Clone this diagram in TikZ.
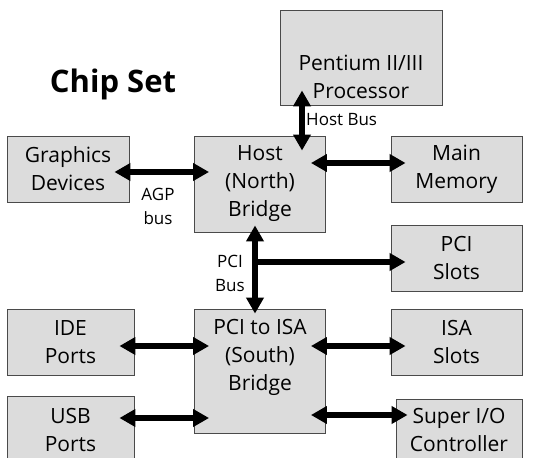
\documentclass[tikz,border=0pt]{standalone}
\usepackage{fontspec}
\setmainfont{Open Sans}
\usetikzlibrary{arrows.meta,positioning}
\definecolor{boxgray}{HTML}{DCDCDC}
\definecolor{edgegray}{HTML}{4A4A4A}

\begin{document}
\begin{tikzpicture}[x=1pt,y=-1pt,
    box/.style={draw=edgegray,fill=boxgray,line width=0.9pt,inner sep=0pt,align=center,font=\fontsize{21}{28}\selectfont},
    txt/.style={inner sep=0pt,align=center,font=\fontsize{21}{28}\selectfont},
    buslabel/.style={inner sep=0pt,align=center,font=\fontsize{17}{24}\selectfont},
    bus/.style={{Triangle[length=16pt,width=17pt]}-{Triangle[length=16pt,width=17pt]},line width=5.5pt,shorten <=-15pt,shorten >=-15pt}]

    \useasboundingbox (0,0) rectangle (545,457);
    \clip (0,0) rectangle (545,457);

    % boxes
    \node[box, minimum width=162pt, minimum height=95pt]  (cpu)      at (361,57.5)  {};
    \node[box, minimum width=122pt, minimum height=66pt]  (graphics) at (68,169)    {Graphics\\Devices};
    \node[box, minimum width=131pt, minimum height=96pt]  (north)    at (260,184)   {Host\\(North)\\Bridge};
    \node[box, minimum width=131pt, minimum height=66pt]  (memory)   at (456.5,169) {Main\\Memory};
    \node[box, minimum width=131pt, minimum height=66pt]  (pcislots) at (456.5,258) {PCI\\Slots};
    \node[box, minimum width=127pt, minimum height=66pt]  (ide)      at (70.5,342)  {IDE\\Ports};
    \node[box, minimum width=131pt, minimum height=124pt] (south)    at (260,371)   {};
    \node[box, minimum width=131pt, minimum height=66pt]  (isa)      at (456.5,342) {ISA\\Slots};
    \node[box, minimum width=127pt, minimum height=80pt]  (usb)      at (70.5,436)  {};
    \node[box, minimum width=126pt, minimum height=80pt]  (superio)  at (459,439)   {};

    % box texts that sit off centre
    \node[txt] (cputxt)   at ([yshift=-19.5pt]cpu.center) {Pentium II/III\\Processor};
    \node[txt] (southtxt) at ([yshift=14pt]south.center)  {PCI to ISA\\(South)\\Bridge};
    \node[txt] (usbtxt)   at (70.5,430)                   {USB\\Ports};
    \node[txt] (siotxt)   at (459,430)                    {Super I/O\\Controller};

    \node[font=\fontsize{31}{34}\selectfont\bfseries] (title) at (113,84) {Chip Set};

    % buses
    \coordinate (pcijoin) at (255,262);
    \draw[bus] (north.north -| 302,0) -- (cpu.south -| 302,0);
    \draw[bus] ([yshift=-3pt]graphics.east) -- ([yshift=-3pt]graphics.east -| north.west);
    \draw[bus] ([yshift=6pt]north.east |- memory.east) -- ([yshift=6pt]memory.west);
    \draw[bus,shorten <=-7pt,shorten >=-5pt] (north.south -| pcijoin) -- (south.north -| pcijoin);
    \draw[-{Triangle[length=16pt,width=17pt]},line width=5.5pt,shorten >=-15pt] (pcijoin) -- (pcijoin -| pcislots.west);
    \draw[bus] ([yshift=-4pt]isa.west -| south.east) -- ([yshift=-4pt]isa.west);
    \draw[bus] ([yshift=-4pt]south.west |- ide.east) -- ([yshift=-4pt]ide.east);
    \draw[bus] (ide.east |- 0,418) -- (south.west |- 0,418);
    \draw[bus,shorten >=-12pt] (south.east |- 0,415) -- (superio.west |- 0,415);

    % bus names
    \node[buslabel, anchor=west] (hostbus) at (306,120) {Host Bus};
    \node[buslabel] (agpbus) at (158,206) {AGP\\bus};
    \node[buslabel] (pcibus) at (230,273) {PCI\\Bus};
\end{tikzpicture}
\end{document}
